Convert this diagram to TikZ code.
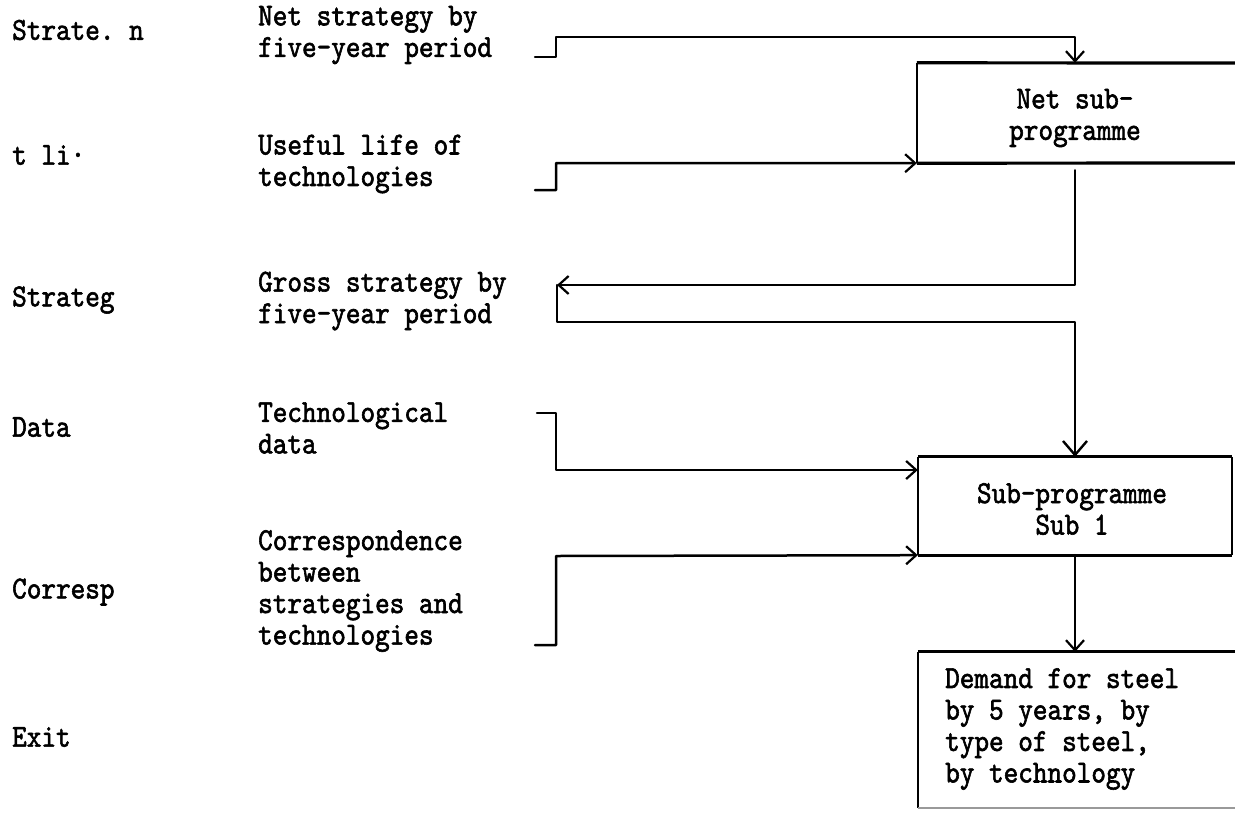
\documentclass[tikz,border=0pt]{standalone}
\usepackage{fontspec}
\setmonofont{lmmono10-regular.otf}[FakeStretch=0.87, FakeBold=1.8]
\usetikzlibrary{arrows.meta,calc}
\tikzset{
  txt/.style={font=\ttfamily\fontsize{32}{31.5}\selectfont, anchor=west, align=left, inner sep=0pt},
  conn/.style={line width=2.5pt, line cap=round, line join=round},
  arr/.style={conn, -{Straight Barb[length=10pt,width=18pt,line width=2.2pt]}},
  boxh/.style={line width=3.2pt},
  boxv/.style={line width=1.7pt},
}
\begin{document}
\begin{tikzpicture}[x=1pt,y=-1pt]
\useasboundingbox[fill=white] (0,0) rectangle (1235,815);
% left column
\node[txt] (l1) at (12,30) {Strate. n};
\node[txt] (l2) at (12,155) {t li·};
\node[txt] (l3) at (12,300) {Strateg};
\node[txt] (l4) at (12,427) {Data};
\node[txt] (l5) at (12,592) {Corresp};
\node[txt] (l6) at (12,737) {Exit};
% middle column
\node[txt] (m1) at (258,35) {Net strategy by\\five-year period};
\node[txt] (m2) at (258,164) {Useful life of\\technologies};
\node[txt] (m3) at (258,301) {Gross strategy by\\five-year period};
\node[txt] (m4) at (258,428) {Technological\\data};
\node[txt] (m5) at (258,591) {Correspondence\\between\\strategies and\\technologies};
% boxes
\node[minimum width=316pt, minimum height=100pt, inner sep=0pt] (net) at (1075,113) {};
\node[txt, anchor=center, align=center] (nettxt) at (1075,118) {Net sub-\\programme};
\draw[boxh] (1235,63) -- (net.north west) (net.south west) -- (1235,163);
\draw[boxv] (net.north west) -- (net.south west);
\node[minimum width=314pt, minimum height=98pt, inner sep=0pt] (sub) at (1075,506) {};
\node[txt, anchor=center, align=center] (subtxt) at (1072,509) {Sub-programme\\Sub 1};
\draw[boxh] (sub.north west) -- (sub.north east) (sub.south west) -- (sub.south east);
\draw[boxv] (sub.north west) -- (sub.south west) (sub.north east) -- (sub.south east);
\node[minimum width=317pt, minimum height=156pt, inner sep=0pt] (dem) at (1076.5,730) {};
\node[txt] (demtxt) at (945,729) {Demand for steel\\by 5 years, by\\type of steel,\\by technology};
\draw[boxh] (dem.north west) -- (dem.north east);
\draw[boxv] (dem.north west) -- (dem.south west);
\draw[line width=1.8pt, black!40] (dem.south west) -- (dem.south east);
% connector coordinates
\coordinate (s1) at (535,57);
\coordinate (j1) at (556,37);
\coordinate (s2) at (535,190);
\coordinate (j2) at (556,163);
\coordinate (g1) at (557,285);
\coordinate (g2) at (1075,322);
\coordinate (s3) at (537,413);
\coordinate (j3) at (556,470);
\coordinate (s4) at (535,645);
\coordinate (j4) at (556,556);
% connectors
\draw[arr] (s1) -| (j1) -| (net.north);
\draw[arr] (s2) -| (j2) -- (net.south west);
\draw[arr, shorten <=7pt] (net.south) |- (g1);
\draw[arr, -{Straight Barb[length=14pt,width=24pt,line width=2.4pt]}] (g1) |- (g2) -- (sub.north);
\draw[arr] (s3) -| (j3) -- (j3 -| sub.west);
\draw[arr] (s4) -| (j4) -- (sub.south west);
\draw[arr] (sub.south) -- (sub.south |- dem.north);
\end{tikzpicture}
\end{document}
